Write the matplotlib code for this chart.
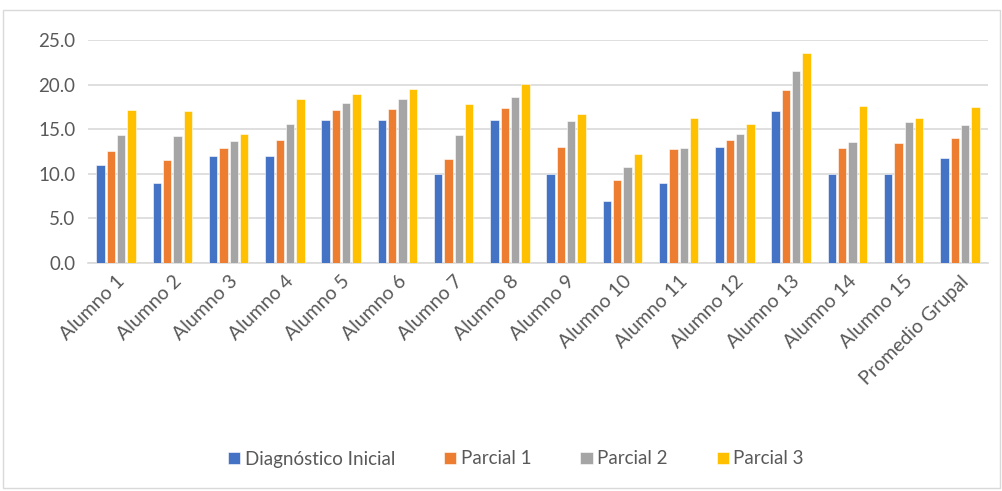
import matplotlib
matplotlib.use('AGG')
import numpy as np
import matplotlib.pyplot as plt
from matplotlib.patches import Rectangle

categories = ['Alumno 1', 'Alumno 2', 'Alumno 3', 'Alumno 4', 'Alumno 5', 'Alumno 6',
              'Alumno 7', 'Alumno 8', 'Alumno 9', 'Alumno 10', 'Alumno 11', 'Alumno 12',
              'Alumno 13', 'Alumno 14', 'Alumno 15', 'Promedio Grupal']
diagnostico = [11.0, 9.0, 12.0, 12.0, 16.0, 16.0, 10.0, 16.0, 10.0, 7.0, 9.0, 13.0, 17.0, 10.0, 10.0, 11.8]
parcial1 = [12.6, 11.6, 12.9, 13.8, 17.1, 17.3, 11.7, 17.4, 13.0, 9.3, 12.8, 13.8, 19.4, 12.9, 13.4, 14.0]
parcial2 = [14.3, 14.2, 13.7, 15.6, 17.9, 18.4, 14.3, 18.6, 15.9, 10.8, 12.9, 14.5, 21.5, 13.6, 15.8, 15.5]
parcial3 = [17.2, 17.0, 14.5, 18.4, 18.9, 19.5, 17.8, 20.1, 16.7, 12.2, 16.2, 15.6, 23.5, 17.6, 16.3, 17.5]
series_names = ['Diagnóstico Inicial', 'Parcial 1', 'Parcial 2', 'Parcial 3']
colors = ['#4472C4', '#ED7D31', '#A5A5A5', '#FFC000']

plt.rcParams['font.family'] = ['Lato', 'DejaVu Sans']
txt = '#595959'

fig = plt.figure(figsize=(10.03, 4.91), dpi=100)
fig.patches.append(Rectangle((3/1003, 3/491), 997/1003, 478/491, transform=fig.transFigure,
                             fill=False, edgecolor='#d9d9d9', linewidth=1))
ax = fig.add_axes([88/1003, 1-263/491, 900/1003, 223/491])

x = np.arange(len(categories))
step = 0.183
width = 0.15
for i, (vals, name, c) in enumerate(zip([diagnostico, parcial1, parcial2, parcial3], series_names, colors)):
    ax.bar(x + (i - 1.5) * step, vals, width, color=c, label=name, edgecolor='white', linewidth=0.4, zorder=3)

ax.set_xlim(-0.5, len(categories) - 0.5)
ax.set_ylim(0, 25)
ax.set_yticks(np.arange(0, 25.1, 5))
ax.set_yticklabels(['%.1f' % v for v in np.arange(0, 25.1, 5)], fontsize=13.5, color=txt)
ax.set_xticks(x)
ax.set_xticklabels(categories, rotation=45, ha='right', rotation_mode='anchor', fontsize=14, color=txt)
ax.tick_params(axis='x', length=0, pad=7)
ax.tick_params(axis='y', length=0, pad=9)
ax.grid(axis='y', color='#d9d9d9', linewidth=1.2, zorder=0)
for s in ['top', 'right', 'left']:
    ax.spines[s].set_visible(False)
ax.spines['bottom'].set_color('#d9d9d9')
ax.spines['bottom'].set_linewidth(1.2)

fig.legend(loc='center', bbox_to_anchor=(516/1003, 1-459/491), ncol=4, frameon=False,
           fontsize=13.5, labelcolor=txt, handlelength=0.65, handleheight=0.65, handletextpad=0.25,
           columnspacing=2.6)

fig.savefig('out.png', dpi=100, transparent=False)
